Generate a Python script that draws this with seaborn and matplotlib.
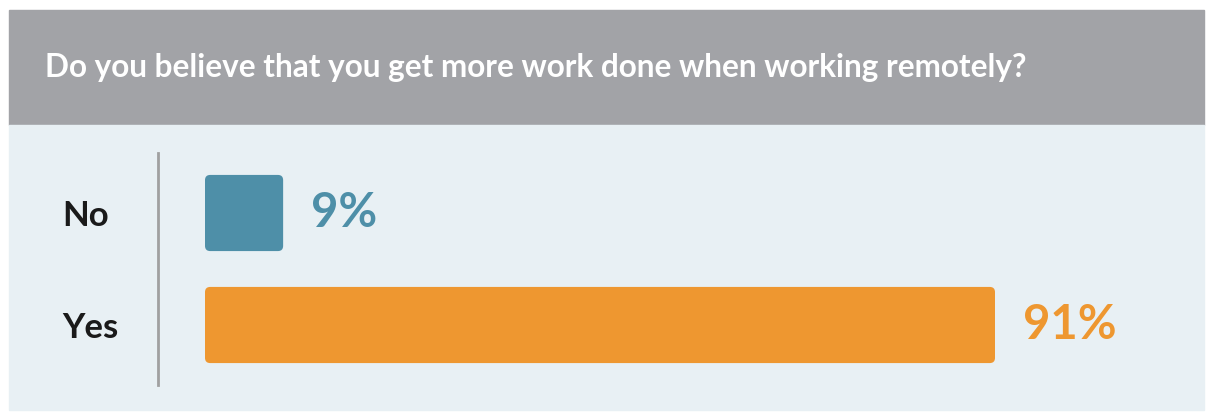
import pandas as pd
import seaborn as sns
import matplotlib.pyplot as plt
from matplotlib.patches import Rectangle, FancyBboxPatch

# Survey answers
answers = ['No', 'Yes']
shares = [9, 91]
bar_colors = ['#4E8FA8', '#EE9730']
title = 'Do you believe that you get more work done when working remotely?'

df = pd.DataFrame({'answer': answers, 'share': shares})

sns.set_style('white')
plt.rcParams['font.family'] = ['Lato', 'DejaVu Sans']

W, H = 1214, 412
fig = plt.figure(figsize=(W / 100, H / 100), dpi=100)
fig.patch.set_facecolor('white')

# header band and light panel (figure pixel coords -> fractions)
fig.patches.append(Rectangle((9 / W, 1 - 125 / H), 1195 / W, 115 / H,
                             transform=fig.transFigure, color='#A2A3A7', zorder=-5))
fig.patches.append(Rectangle((9 / W, 1 - 410 / H), 1195 / W, 285 / H,
                             transform=fig.transFigure, color='#E8F0F4', zorder=-5))
fig.text(45 / W, 1 - 67 / H, title, color='white', fontsize=22.7, fontweight='bold',
         va='center', ha='left')

# axes: left edge is the grey divider line
ax_left, ax_right, ax_top, ax_bot = 158, 1204, 153, 385
ax = fig.add_axes([ax_left / W, 1 - ax_bot / H, (ax_right - ax_left) / W, (ax_bot - ax_top) / H])
ax.patch.set_alpha(0)
ax.set_zorder(2)

sns.barplot(data=df, y='answer', x='share', hue='answer', palette=bar_colors,
            orient='h', width=0.68, saturation=1, legend=False, ax=ax)

px_per_unit = 790 / 91
x0 = -(205 - ax_left) / px_per_unit
x1 = (ax_right - 205) / px_per_unit
ax.set_xlim(x0, x1)
ax.set_ylim(1 + 60 / 112, -60 / 112)

# rounded bar corners
aspect = (1 / 112) / (1 / px_per_unit)
for p in list(ax.patches):
    x, y = p.get_x(), p.get_y()
    w, h = p.get_width(), p.get_height()
    fc = p.get_facecolor()
    p.set_visible(False)
    ax.add_patch(FancyBboxPatch((x, y), w, h,
                                boxstyle='round,pad=0,rounding_size=0.6',
                                mutation_aspect=aspect, facecolor=fc,
                                edgecolor='none', zorder=2))

for c, col in zip(ax.containers, bar_colors):
    ax.bar_label(c, labels=[f'{v:.0f}%' for v in c.datavalues], padding=20,
                 color=col, fontsize=34, fontweight='bold')

ax.set_xlabel('')
ax.set_ylabel('')
ax.set_xticks([])
for s in ['top', 'right', 'bottom']:
    ax.spines[s].set_visible(False)
ax.spines['left'].set_color('#A0A0A0')
ax.spines['left'].set_linewidth(2)
ax.tick_params(axis='y', length=0, pad=(ax_left - 62) * 0.72)
for lab in ax.get_yticklabels():
    lab.set_ha('left')
    lab.set_fontweight('bold')
    lab.set_fontsize(25)
    lab.set_color('#1A1A1A')

fig.savefig('out.png', dpi=100)
